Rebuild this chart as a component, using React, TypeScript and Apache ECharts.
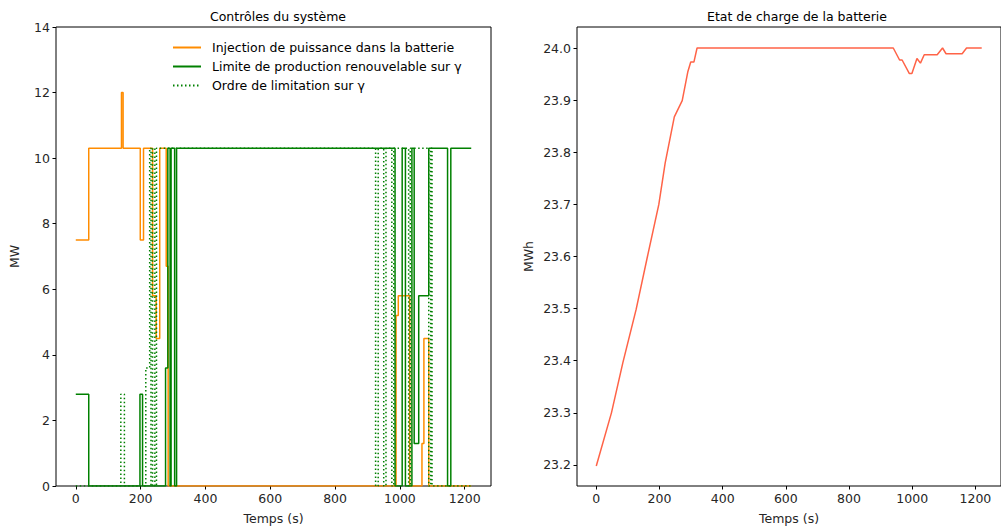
import React, { useEffect, useRef } from "react";
import * as echarts from "echarts";

// Injection de puissance dans la batterie (step changes: time s -> MW)
const injTimes = [0, 40, 141, 146, 199, 209, 237, 248, 259, 279, 285, 988, 995, 1030, 1068, 1074, 1089, 1220];
const injValues = [7.5, 10.3, 12.0, 10.3, 7.5, 10.3, 5.8, 4.5, 10.3, 6.7, 0, 5.2, 5.8, 0, 1.3, 4.5, 0, 0];

// Limite de production renouvelable sur γ
const limTimes = [0, 40, 198, 206, 277, 284, 291, 294, 305, 311, 985, 1007, 1017, 1037, 1044, 1058, 1089, 1147, 1157, 1220];
const limValues = [2.8, 0, 2.8, 0, 3.6, 10.3, 0, 10.3, 0, 10.3, 0, 10.3, 0, 10.3, 1.3, 5.8, 10.3, 0, 10.3, 10.3];

// Ordre de limitation sur γ
const ordTimes = [0, 139, 150, 216, 228, 232, 237, 244, 249, 925, 933, 950, 957, 975, 981, 1027, 1032, 1089, 1095, 1099, 1220];
const ordValues = [0, 2.8, 0, 3.6, 10.3, 0, 10.3, 0, 10.3, 0, 10.3, 0, 10.3, 0, 10.3, 0, 10.3, 0, 10.3, 0, 0];

// Etat de charge de la batterie (MWh)
const socTimes = [0, 48, 84, 126, 162, 198, 218, 247, 272, 290, 299, 309, 319, 940, 960, 968, 991, 999, 1015, 1026, 1038, 1079, 1096, 1107, 1158, 1172, 1220];
const socValues = [23.198, 23.3, 23.396, 23.498, 23.6, 23.7, 23.779, 23.868, 23.899, 23.955, 23.973, 23.973, 24.0, 24.0, 23.977, 23.977, 23.951, 23.951, 23.98, 23.971, 23.987, 23.987, 24.0, 23.989, 23.989, 24.0, 24.0];

const xTicks = [0, 200, 400, 600, 800, 1000, 1200];
const socTicks = [23.2, 23.3, 23.4, 23.5, 23.6, 23.7, 23.8, 23.9, 24.0];

const seriesNames = [
  "Injection de puissance dans la batterie",
  "Limite de production renouvelable sur γ",
  "Ordre de limitation sur γ",
];

const zip = (a: number[], b: number[]) => a.map((t, i) => [t, b[i]]);

const FONT = "DejaVu Sans";
const labelColor = "#262626";

function makeXAxis(gridIndex: number) {
  return {
    type: "value",
    gridIndex,
    min: -61,
    max: 1281,
    axisLine: { show: false, onZero: false },
    axisTick: { show: true, length: 3.5, customValues: xTicks, lineStyle: { color: "#000", width: 1 } },
    axisLabel: {
      customValues: xTicks,
      margin: 6,
      fontSize: 12.5,
      color: labelColor,
      fontFamily: FONT,
      formatter: (v: number) => String(v),
    },
    splitLine: { show: false },
    name: "Temps (s)",
    nameLocation: "middle",
    nameGap: 26,
    nameTextStyle: { fontSize: 12.5, color: labelColor, fontFamily: FONT },
  };
}

export default function App() {
  const ref = useRef<HTMLDivElement>(null);
  useEffect(() => {
    if (!ref.current) return;
    const chart = echarts.init(ref.current, undefined, { renderer: "svg" });
    const option = {
      animation: false,
      textStyle: { fontFamily: FONT },
      title: [
        {
          text: "Contrôles du système",
          left: 273,
          top: 5,
          textAlign: "center",
          textStyle: { fontSize: 12.5, fontWeight: "normal", color: "#000", fontFamily: FONT },
        },
        {
          text: "Etat de charge de la batterie",
          left: 792,
          top: 5,
          textAlign: "center",
          textStyle: { fontSize: 12.5, fontWeight: "normal", color: "#000", fontFamily: FONT },
        },
      ],
      legend: {
        data: seriesNames,
        orient: "vertical",
        left: 167,
        top: 36,
        itemWidth: 28,
        itemHeight: 14,
        itemGap: 6,
        itemStyle: { opacity: 0, color: "transparent", borderWidth: 0 },
        textStyle: { fontSize: 12.5, color: "#000", fontFamily: FONT, padding: [0, 0, 0, 6] },
      },
      grid: [
        { left: 56, top: 27, width: 435, height: 461, show: true, borderColor: "#000", borderWidth: 1 },
        { left: 577, top: 27, width: 435, height: 461, show: true, borderColor: "#000", borderWidth: 1 },
      ],
      xAxis: [makeXAxis(0), makeXAxis(1)],
      yAxis: [
        {
          type: "value",
          gridIndex: 0,
          min: 0,
          max: 14,
          interval: 2,
          axisLine: { show: false, onZero: false },
          axisTick: { show: true, length: 3.5, lineStyle: { color: "#000" } },
          axisLabel: { margin: 6, fontSize: 12.5, color: labelColor, fontFamily: FONT },
          splitLine: { show: false },
          name: "MW",
          nameLocation: "middle",
          nameGap: 35,
          nameTextStyle: { fontSize: 12.5, color: labelColor, fontFamily: FONT },
        },
        {
          type: "value",
          gridIndex: 1,
          min: 23.1597,
          max: 24.0403,
          axisLine: { show: false, onZero: false },
          axisTick: { show: true, length: 3.5, customValues: socTicks, lineStyle: { color: "#000" } },
          axisLabel: {
            customValues: socTicks,
            margin: 6,
            fontSize: 12.5,
            color: labelColor,
            fontFamily: FONT,
            formatter: (v: number) => v.toFixed(1),
          },
          splitLine: { show: false },
          name: "MWh",
          nameLocation: "middle",
          nameGap: 42,
          nameTextStyle: { fontSize: 12.5, color: labelColor, fontFamily: FONT },
        },
      ],
      series: [
        {
          name: seriesNames[0],
          type: "line",
          xAxisIndex: 0,
          yAxisIndex: 0,
          step: "end",
          symbol: "none",
          data: zip(injTimes, injValues),
          itemStyle: { color: "#ff8c00" },
          lineStyle: { color: "#ff8c00", width: 1.5 },
        },
        {
          name: seriesNames[1],
          type: "line",
          xAxisIndex: 0,
          yAxisIndex: 0,
          step: "end",
          symbol: "none",
          data: zip(limTimes, limValues),
          itemStyle: { color: "#008000" },
          lineStyle: { color: "#008000", width: 1.5 },
        },
        {
          name: seriesNames[2],
          type: "line",
          xAxisIndex: 0,
          yAxisIndex: 0,
          step: "end",
          symbol: "none",
          data: zip(ordTimes, ordValues),
          itemStyle: { color: "#008000" },
          lineStyle: { color: "#008000", width: 1.5, type: [1.5, 2.5] },
        },
        {
          name: "Etat de charge",
          type: "line",
          xAxisIndex: 1,
          yAxisIndex: 1,
          symbol: "none",
          data: zip(socTimes, socValues),
          itemStyle: { color: "#ff6347" },
          lineStyle: { color: "#ff6347", width: 1.5 },
        },
      ],
    };
    chart.setOption(option as any);
    return () => chart.dispose();
  }, []);
  return (
    <div
      ref={ref}
      style={{ position: "fixed", left: 0, top: 0, width: 1001, height: 530, background: "#fff" }}
    />
  );
}
